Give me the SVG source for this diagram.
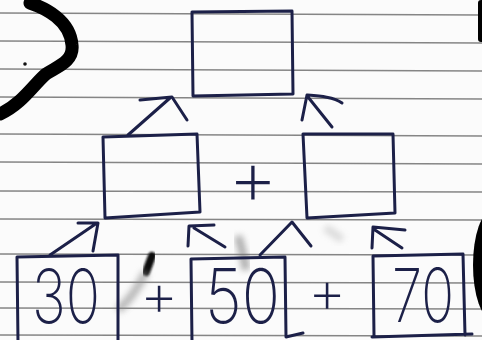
<svg xmlns="http://www.w3.org/2000/svg" width="482" height="340" viewBox="0 0 482 340">
<defs>
<style>
.rule{stroke:#5e5e5e;stroke-width:1.6;opacity:0.75;fill:none}
.ink{stroke:#1c2048;stroke-width:3;fill:none;stroke-linecap:round;stroke-linejoin:round}
.num{font-family:Inter,"DejaVu Sans",sans-serif;font-weight:200;fill:#1c2048}
.plus{font-family:Inter,"DejaVu Sans",sans-serif;font-weight:200;fill:#1c2048;text-anchor:middle}
</style>
<filter id="blur" x="-50%" y="-50%" width="200%" height="200%"><feGaussianBlur stdDeviation="3"/></filter>
<filter id="blur1" x="-50%" y="-50%" width="200%" height="200%"><feGaussianBlur stdDeviation="1.2"/></filter>
</defs>
<rect width="482" height="340" fill="#fbfbfb"/>
<g id="paper">
<path class="rule" d="M0 13 L482 15"/>
<path class="rule" d="M0 41 L482 43"/>
<path class="rule" d="M0 69 L482 71"/>
<path class="rule" d="M0 97 L482 99"/>
<path class="rule" d="M0 134 L482 136"/>
<path class="rule" d="M0 162 L482 164"/>
<path class="rule" d="M0 191 L482 192"/>
<path class="rule" d="M0 219 L482 220"/>
<path class="rule" d="M0 254 L482 255"/>
<path class="rule" d="M0 282 L482 283"/>
<path class="rule" d="M0 308 L482 309"/>
<path class="rule" d="M0 335 L482 336"/>
</g>
<g id="marks">
<path d="M30 3 C45 8 70 20 72 45 C74 62 56 67 46 74 C34 84 22 104 0 114" fill="none" stroke="#000" stroke-width="13" stroke-linecap="round"/>
<circle cx="25" cy="64" r="1.8" fill="#111"/>
<rect x="478" y="0" width="8" height="42" rx="3" fill="#000"/>
<ellipse cx="492" cy="265" rx="19" ry="54" fill="#000"/>
<path d="M152 256 L146 272" stroke="#111" stroke-width="8" stroke-linecap="round" filter="url(#blur1)"/>
<path d="M146 272 C138 288 130 300 118 310" stroke="#888" stroke-width="8" fill="none" opacity="0.6" filter="url(#blur)"/>
<path d="M238 236 C242 248 244 258 246 270" stroke="#777" stroke-width="8" fill="none" opacity="0.6" filter="url(#blur)"/>
<path d="M325 228 C332 232 338 236 342 240" stroke="#aaa" stroke-width="8" fill="none" opacity="0.4" filter="url(#blur)"/>
</g>
<g id="connectors">
<path class="ink" d="M128 135 L170 98 M140 100 L172 97 L187 120"/>
<path class="ink" d="M332 127 L308 97 M302 120 L307 95 C320 96 334 97 342 103"/>
<path class="ink" d="M50 255 L97 223 M78 223 L98 223 L93 251"/>
<path class="ink" d="M225 247 L194 228 M188 246 L189 226 L214 225"/>
<path class="ink" d="M260 255 L292 222 L311 246"/>
<path class="ink" d="M402 248 L375 230 M372 248 L373 227 L405 230"/>
</g>
<g id="top-box">
<path class="ink" d="M192 12 L292 11 L293 94 L193 96 Z"/>
</g>
<g id="mid-left-box">
<path class="ink" d="M103 137 L197 134 L200 212 L105 218 Z"/>
</g>
<g id="mid-plus">
<text class="plus" x="253" y="205" font-size="78">+</text>
</g>
<g id="mid-right-box">
<path class="ink" d="M303 134 L393 134 L395 213 L307 218 Z"/>
</g>
<g id="box-30">
<path class="ink" d="M18 342 L17 257 L118 255 L118 342"/>
<text class="num" x="32" y="323" font-size="74" textLength="68" lengthAdjust="spacingAndGlyphs">30</text>
</g>
<g id="plus-1">
<text class="plus" x="159" y="316" font-size="60">+</text>
</g>
<g id="box-50">
<path class="ink" d="M192 342 L191 259 L285 257 L286 337 L303 333"/>
<text class="num" x="205" y="323" font-size="75" textLength="75" lengthAdjust="spacingAndGlyphs">50</text>
</g>
<g id="plus-2">
<text class="plus" x="327" y="313" font-size="60">+</text>
</g>
<g id="box-70">
<path class="ink" d="M374 336 L373 256 L463 254 L465 335 M372 337 L472 334"/>
<text class="num" x="392" y="322" font-size="74" textLength="62" lengthAdjust="spacingAndGlyphs">70</text>
</g>
</svg>
